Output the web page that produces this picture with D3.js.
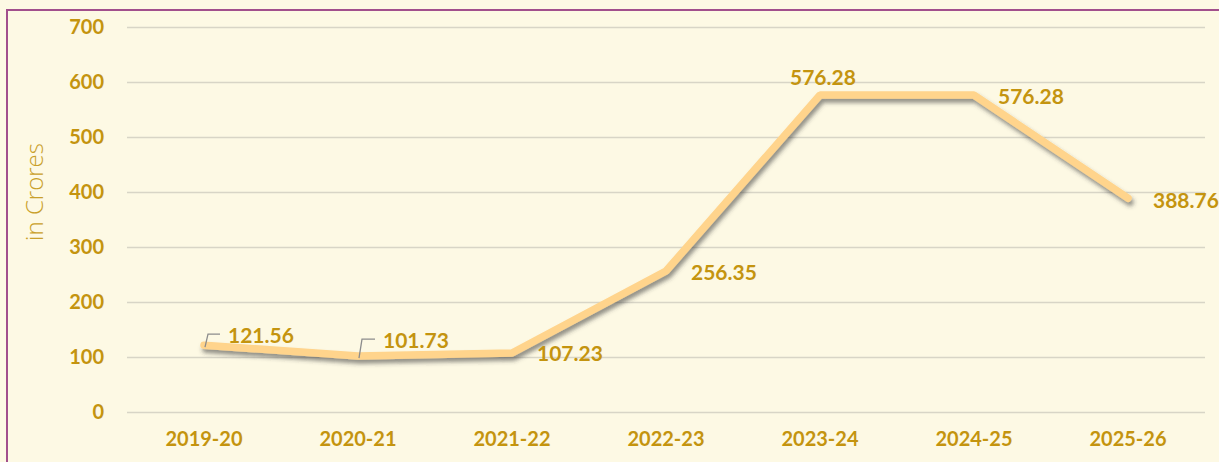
<!DOCTYPE html>
<html>
<head>
<meta charset="utf-8">
<script src="https://cdn.jsdelivr.net/npm/d3@7"></script>
<style>
  html, body { margin: 0; padding: 0; background: #fdf9e4; }
  svg { display: block; }
</style>
</head>
<body>
<svg id="chart" width="1219" height="462"></svg>
<script>
// Yearly amounts, in crores
const years = ["2019-20", "2020-21", "2021-22", "2022-23", "2023-24", "2024-25", "2025-26"];
const amounts = [121.56, 101.73, 107.23, 256.35, 576.28, 576.28, 388.76];
const yTicks = [0, 100, 200, 300, 400, 500, 600, 700];

const svg = d3.select("#chart");
const W = 1219, H = 462;
const plot = { left: 127, right: 1205, top: 27, bottom: 412 };
const gold = "#c4940f";
const font = "Lato, 'Open Sans', sans-serif";

svg.append("rect").attr("width", W).attr("height", H).attr("fill", "#fdf9e4");

// outer frame
svg.append("rect")
  .attr("x", 7).attr("y", 10).attr("width", W + 20).attr("height", H + 20)
  .attr("fill", "none").attr("stroke", "#a24f8c").attr("stroke-width", 2);

const x = d3.scaleBand().domain(years).range([plot.left, plot.right]).padding(0);
const xc = d => x(d) + x.bandwidth() / 2;
const y = d3.scaleLinear().domain([0, 700]).range([plot.bottom, plot.top]);

const defs = svg.append("defs");
const f = defs.append("filter").attr("id", "shadow")
  .attr("x", "-5%").attr("y", "-20%").attr("width", "110%").attr("height", "140%");
f.append("feDropShadow").attr("dx", 2).attr("dy", 4).attr("stdDeviation", 2)
  .attr("flood-color", "#3a3a3a").attr("flood-opacity", 0.55);

// gridlines + y labels
const yAxis = d3.axisLeft(y).tickValues(yTicks).tickSize(-(plot.right - plot.left)).tickPadding(23);
const gy = svg.append("g").attr("transform", `translate(${plot.left},0)`).call(yAxis);
gy.select(".domain").remove();
gy.selectAll(".tick line").attr("stroke", "#d8d5c6").attr("stroke-width", 1.6);
gy.selectAll(".tick text")
  .attr("fill", gold).attr("font-family", font)
  .attr("font-size", 20).attr("font-weight", 700);

// x labels
const xAxis = d3.axisBottom(x).tickSize(0).tickPadding(20);
const gx = svg.append("g").attr("transform", `translate(0,${plot.bottom})`).call(xAxis);
gx.select(".domain").remove();
gx.selectAll(".tick text")
  .attr("fill", gold).attr("font-family", font)
  .attr("font-size", 20).attr("font-weight", 700);

// y title
svg.append("text")
  .attr("transform", `translate(43,${192}) rotate(-90)`)
  .attr("text-anchor", "middle")
  .attr("fill", "#c9a02a")
  .attr("font-family", "'Open Sans', Lato, sans-serif")
  .attr("font-size", 24).attr("font-weight", 300)
  .text("in Crores");

// series line
const pts = years.map((yr, i) => [xc(yr), y(amounts[i])]);
svg.append("path")
  .attr("d", d3.line()(pts))
  .attr("fill", "none")
  .attr("stroke", "#ffd48c")
  .attr("stroke-width", 7.5)
  .attr("stroke-linejoin", "bevel")
  .attr("stroke-linecap", "round")
  .attr("filter", "url(#shadow)");

// data labels: offsets relative to each point
const labelOffsets = [
  { dx: 24, dy: -10, leader: true },
  { dx: 25, dy: -16, leader: true },
  { dx: 25, dy: 0 },
  { dx: 25, dy: 1 },
  { dx: -30, dy: -18 },
  { dx: 24, dy: 1 },
  { dx: 25, dy: 2 }
];

years.forEach((yr, i) => {
  const [px, py] = pts[i];
  const o = labelOffsets[i];
  if (o.leader) {
    svg.append("path")
      .attr("d", `M${px + 1},${py + 2} L${px + 4},${py + o.dy - 1} L${px + o.dx - 8},${py + o.dy - 1}`)
      .attr("fill", "none").attr("stroke", "#8c8c8c").attr("stroke-width", 1.3);
  }
  svg.append("text")
    .attr("x", px + o.dx).attr("y", py + o.dy)
    .attr("dy", "0.36em")
    .attr("fill", gold)
    .attr("font-family", font)
    .attr("font-size", 21).attr("font-weight", 700)
    .text(amounts[i].toFixed(2));
});
</script>
</body>
</html>
